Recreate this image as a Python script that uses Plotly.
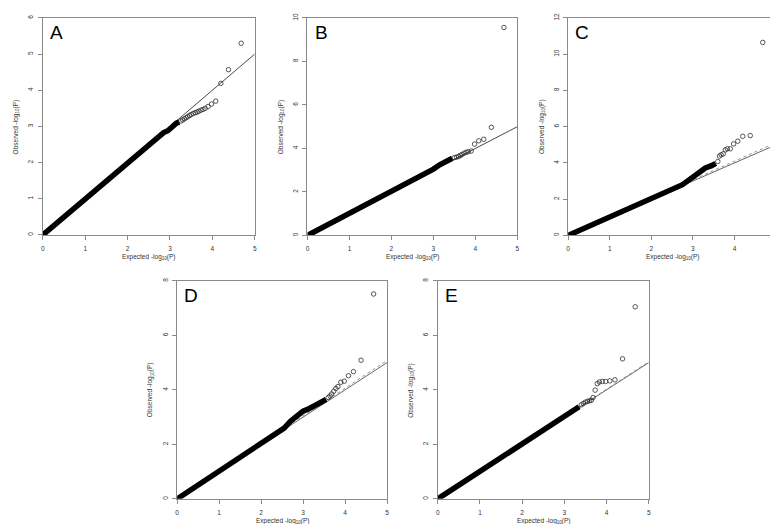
import plotly.graph_objects as go

W, H = 778, 524

panels = ["A", "B", "C", "D", "E"]

# dense (overlapping) part of each QQ curve
A_band_x = [0, 0.5, 1.0, 1.5, 2.0, 2.3, 2.5, 2.7, 2.85, 2.95, 3.05, 3.15, 3.22]
A_band_y = [0, 0.5, 1.0, 1.5, 2.0, 2.32, 2.48, 2.72, 2.83, 2.88, 3.0, 3.09, 3.12]
A_tail_x = [3.26, 3.30, 3.34, 3.38, 3.42, 3.46, 3.50, 3.55, 3.60, 3.64, 3.68, 3.73, 3.78, 3.83, 3.90, 3.98, 4.08, 4.20, 4.38, 4.68]
A_tail_y = [3.15, 3.18, 3.21, 3.24, 3.27, 3.30, 3.33, 3.36, 3.38, 3.40, 3.42, 3.45, 3.47, 3.50, 3.55, 3.62, 3.70, 4.19, 4.57, 5.30]

B_band_x = [0, 0.5, 1, 1.5, 2, 2.5, 2.85, 3.0, 3.15, 3.3, 3.45]
B_band_y = [0, 0.5, 1, 1.5, 2, 2.5, 2.85, 3.05, 3.25, 3.42, 3.55]
B_tail_x = [3.5, 3.55, 3.6, 3.64, 3.68, 3.73, 3.78, 3.83, 3.90, 3.98, 4.08, 4.20, 4.38, 4.68]
B_tail_y = [3.58, 3.60, 3.63, 3.68, 3.72, 3.78, 3.82, 3.85, 3.88, 4.20, 4.35, 4.42, 4.97, 9.56]

C_band_x = [0, 0.5, 1, 1.5, 2, 2.55, 2.75, 2.9, 3.0, 3.15, 3.3, 3.45, 3.55]
C_band_y = [0, 0.5, 1, 1.5, 2, 2.55, 2.8, 3.05, 3.2, 3.45, 3.72, 3.85, 3.98]
C_tail_x = [3.6, 3.64, 3.68, 3.73, 3.78, 3.83, 3.90, 3.98, 4.08, 4.20, 4.38, 4.68]
C_tail_y = [4.08, 4.38, 4.45, 4.50, 4.72, 4.78, 4.78, 5.05, 5.20, 5.47, 5.51, 10.65]

D_band_x = [0, 0.5, 1, 1.5, 2, 2.3, 2.45, 2.55, 2.7, 2.85, 3.0, 3.15, 3.3, 3.45, 3.55]
D_band_y = [0, 0.5, 1, 1.5, 2.0, 2.32, 2.48, 2.6, 2.85, 3.05, 3.22, 3.32, 3.45, 3.55, 3.65]
D_tail_x = [3.6, 3.64, 3.68, 3.73, 3.78, 3.83, 3.90, 3.98, 4.08, 4.20, 4.38, 4.68]
D_tail_y = [3.72, 3.78, 3.85, 3.95, 4.05, 4.12, 4.28, 4.32, 4.52, 4.67, 5.09, 7.52]

E_band_x = [0, 0.5, 1, 1.5, 2, 2.5, 3.0, 3.2, 3.35]
E_band_y = [0, 0.5, 1, 1.5, 2, 2.5, 3.02, 3.22, 3.38]
E_tail_x = [3.4, 3.45, 3.5, 3.55, 3.6, 3.64, 3.68, 3.73, 3.78, 3.83, 3.90, 3.98, 4.08, 4.20, 4.38, 4.68]
E_tail_y = [3.45, 3.50, 3.55, 3.58, 3.60, 3.62, 3.72, 3.99, 4.23, 4.29, 4.31, 4.31, 4.33, 4.37, 5.14, 7.05]

# reference lines: expected line end (x=5) and lambda-adjusted dashed line end
ref_x = [0, 5]
ref_y = [0, 5]
dash_end = {"A": None, "B": None, "C": 5.12, "D": 5.08, "E": 5.03}

y_max = {"A": 6, "B": 10, "C": 12, "D": 8, "E": 8}
y_step = {"A": 1, "B": 2, "C": 2, "D": 2, "E": 2}
x_ticks = [0, 1, 2, 3, 4, 5]

data = {
    "A": (A_band_x, A_band_y, A_tail_x, A_tail_y),
    "B": (B_band_x, B_band_y, B_tail_x, B_tail_y),
    "C": (C_band_x, C_band_y, C_tail_x, C_tail_y),
    "D": (D_band_x, D_band_y, D_tail_x, D_tail_y),
    "E": (E_band_x, E_band_y, E_tail_x, E_tail_y),
}

# plot boxes in pixels: left, right, top, bottom
boxes = {
    "A": (33, 246, 5, 224.5),
    "B": (299, 510, 5, 225),
    "C": (561, 770, 5, 225),
    "D": (168, 379, 271, 491.5),
    "E": (430, 642, 271, 491.5),
}

FONT = "Liberation Sans"
TXT = "#333333"
AX = "#8a8a8a"

fig = go.Figure()
layout = dict(
    width=W, height=H, margin=dict(l=0, r=0, t=0, b=0),
    paper_bgcolor="white", plot_bgcolor="white", showlegend=False,
    font=dict(family=FONT, size=6.5, color=TXT),
)
annotations = []

for i, p in enumerate(panels):
    n = "" if i == 0 else str(i + 1)
    xa, ya = "x" + n, "y" + n
    l, r, t, b = boxes[p]
    bx, by, tx, ty = data[p]
    fig.add_trace(go.Scatter(x=ref_x, y=ref_y, mode="lines", xaxis=xa, yaxis=ya,
                             line=dict(color="#333333" if p in "AB" else "#555555", width=0.9)))
    if dash_end[p] is not None:
        fig.add_trace(go.Scatter(x=ref_x, y=[0, dash_end[p]], mode="lines", xaxis=xa, yaxis=ya,
                                 line=dict(color="#888888", width=0.9, dash="dot")))
    fig.add_trace(go.Scatter(x=bx, y=by, mode="lines", xaxis=xa, yaxis=ya,
                             line=dict(color="black", width=5.5)))
    fig.add_trace(go.Scatter(x=tx, y=ty, mode="markers", xaxis=xa, yaxis=ya,
                             marker=dict(symbol="circle-open", size=4.5, color="#222222",
                                         line=dict(width=0.75, color="#222222"))))
    ax_common = dict(showline=True, linecolor=AX, linewidth=1, mirror=True,
                     showgrid=False, zeroline=False, ticks="outside", ticklen=4,
                     tickcolor=AX, tickwidth=1,
                     tickfont=dict(family=FONT, size=6.5, color=TXT))
    layout["xaxis" + n] = dict(ax_common, domain=[l / W, r / W], anchor=ya,
                               range=[0, 5], tickvals=x_ticks, ticklabelstandoff=3)
    yt = list(range(0, y_max[p] + 1, y_step[p]))
    layout["yaxis" + n] = dict(ax_common, domain=[1 - b / H, 1 - t / H], anchor=xa,
                               range=[0, y_max[p]], tickvals=yt, tickangle=-90,
                               ticklabelstandoff=2)
    # panel letter
    annotations.append(dict(text=p, x=(l + 14) / W, y=1 - (t + 15) / H, xref="paper", yref="paper",
                            showarrow=False, xanchor="center", yanchor="middle",
                            font=dict(family=FONT, size=19, color="black")))
    # axis titles
    annotations.append(dict(text="Expected -log<sub>10</sub>(P)", x=(l + r) / 2 / W,
                            y=1 - (b + 22) / H, xref="paper", yref="paper", showarrow=False,
                            xanchor="center", yanchor="middle",
                            font=dict(family=FONT, size=6.5, color=TXT)))
    annotations.append(dict(text="Observed -log<sub>10</sub>(P)", x=(l - 27) / W,
                            y=1 - (t + b) / 2 / H, xref="paper", yref="paper", showarrow=False,
                            xanchor="center", yanchor="middle", textangle=-90,
                            font=dict(family=FONT, size=6.5, color=TXT)))

layout["annotations"] = annotations
fig.update_layout(**layout)
fig.write_html("out.html")
